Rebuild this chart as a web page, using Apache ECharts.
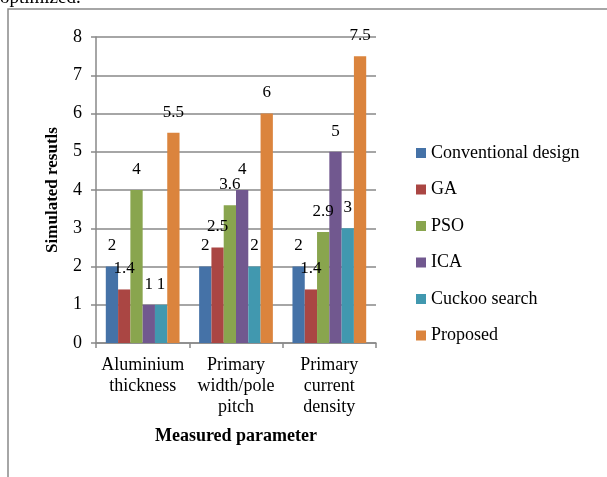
<!DOCTYPE html>
<html lang="en">
<head>
    <meta charset="UTF-8">
    <title>Simulated results</title>
    <script src="https://cdn.jsdelivr.net/npm/echarts@6/dist/echarts.min.js"></script>
    <style>
        *{
            margin: 0;
            padding: 0;
        }
        body{
            background: #fff;
            overflow: hidden;
        }
        .container{
            width: 607px;
            height: 477px;
        }
    </style>
</head>
<body>
<div class="container"></div>
<script>
    // data
    let categories = ['Aluminium\nthickness', 'Primary\nwidth/pole\npitch', 'Primary\ncurrent\ndensity'];
    let seriesNames = ['Conventional design', 'GA', 'PSO', 'ICA', 'Cuckoo search', 'Proposed'];
    let conventional = [2, 2, 2];
    let ga = [1.4, 2.5, 1.4];
    let pso = [4, 3.6, 2.9];
    let ica = [1, 4, 5];
    let cuckoo = [1, 2, 3];
    let proposed = [5.5, 6, 7.5];
    let yTicks = [0, 1, 2, 3, 4, 5, 6, 7, 8];

    let colors = ['#4572A7', '#AA4643', '#89A54E', '#71588F', '#4198AF', '#DB843D'];
    let font = "'Liberation Serif', 'Times New Roman', serif";
    let gray = '#898989';

    let container = document.querySelector('.container');
    let mychart = echarts.init(container);

    let values = [conventional, ga, pso, ica, cuckoo, proposed];
    let series = seriesNames.map((name, i) => ({
        name,
        type: 'bar',
        data: values[i],
        barGap: 0,
        barCategoryGap: '21%',
        itemStyle: {color: colors[i]},
        label: {
            show: true,
            position: 'top',
            distance: 12,
            color: '#000',
            fontFamily: font,
            fontSize: 17
        }
    }));

    let options = {
        animation: false,
        backgroundColor: '#fff',
        color: colors,
        graphic: [
            {
                // bottom of the page text line above the chart
                type: 'text',
                left: 0,
                top: -11,
                style: {text: 'optimized.', font: '19px ' + font, fill: '#000'}
            },
            {
                type: 'rect',
                shape: {x: 8, y: 9, width: 700, height: 600},
                style: {fill: 'none', stroke: gray, lineWidth: 1.5},
                silent: true
            }
        ],
        grid: {
            left: 96,
            right: 231,
            top: 37,
            bottom: 134
        },
        legend: {
            orient: 'vertical',
            left: 416,
            top: 144,
            padding: 0,
            itemWidth: 10,
            itemHeight: 10,
            itemGap: 18.5,
            icon: 'rect',
            data: seriesNames,
            textStyle: {
                color: '#000',
                fontFamily: font,
                fontSize: 18,
                lineHeight: 18
            }
        },
        xAxis: {
            type: 'category',
            data: categories,
            name: 'Measured parameter',
            nameLocation: 'middle',
            nameGap: 84,
            nameTextStyle: {
                color: '#000',
                fontFamily: font,
                fontSize: 18,
                fontWeight: 'bold'
            },
            axisLine: {lineStyle: {color: gray, width: 1.5}},
            axisTick: {show: true, length: 5, lineStyle: {color: gray, width: 1.5}},
            axisLabel: {
                color: '#000',
                fontFamily: font,
                fontSize: 18,
                lineHeight: 21,
                margin: 12,
                interval: 0
            }
        },
        yAxis: {
            type: 'value',
            min: yTicks[0],
            max: yTicks[yTicks.length - 1],
            interval: 1,
            name: 'Simulated resutls',
            nameLocation: 'middle',
            nameGap: 35,
            nameTextStyle: {
                color: '#000',
                fontFamily: font,
                fontSize: 17,
                fontWeight: 'bold'
            },
            axisLine: {show: true, lineStyle: {color: gray, width: 1.5}},
            axisTick: {show: true, length: 5, lineStyle: {color: gray, width: 1.5}},
            splitLine: {lineStyle: {color: gray, width: 1.5}},
            axisLabel: {
                color: '#000',
                fontFamily: font,
                fontSize: 18,
                margin: 14
            }
        },
        series
    };

    mychart.setOption(options);
</script>
</body>
</html>
